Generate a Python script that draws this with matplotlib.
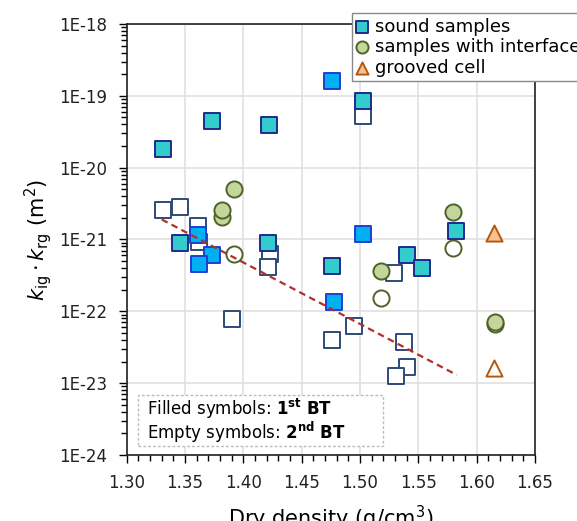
import matplotlib.pyplot as plt
import numpy as np
from matplotlib.ticker import FixedLocator, FuncFormatter, LogLocator, MultipleLocator
from matplotlib.patches import Rectangle

# sound samples, 1st BT (two fill shades in the original)
sound1_teal_x = [1.331, 1.373, 1.422, 1.346, 1.421, 1.503, 1.582, 1.476, 1.540, 1.553]
sound1_teal_y = [1.8e-20, 4.5e-20, 3.9e-20, 8.8e-22, 9.0e-22, 8.6e-20, 1.33e-21, 4.3e-22, 6.05e-22, 4.0e-22]
sound1_blue_x = [1.361, 1.373, 1.362, 1.476, 1.503, 1.478]
sound1_blue_y = [1.17e-21, 6.0e-22, 4.5e-22, 1.6e-19, 1.2e-21, 1.33e-22]
# sound samples, 2nd BT
sound2_x = [1.331, 1.346, 1.361, 1.362, 1.423, 1.421, 1.390, 1.503, 1.529, 1.495, 1.476, 1.538, 1.540, 1.531]
sound2_y = [2.6e-21, 2.8e-21, 1.56e-21, 9.2e-22, 6.3e-22, 4.1e-22, 7.9e-23, 5.3e-20, 3.44e-22, 6.3e-23,
            4.0e-23, 3.7e-23, 1.68e-23, 1.27e-23]
# samples with interface
interf1_x = [1.392, 1.382, 1.382, 1.580, 1.518, 1.616]
interf1_y = [5.1e-21, 2.07e-21, 2.55e-21, 2.4e-21, 3.6e-22, 7.0e-23]
interf2_x = [1.392, 1.580, 1.518, 1.616]
interf2_y = [6.2e-22, 7.7e-22, 1.55e-22, 6.6e-23]
# grooved cell
groove1_x = [1.615]
groove1_y = [1.24e-21]
groove2_x = [1.615]
groove2_y = [1.6e-23]
# trend line
trend_x = [1.330, 1.583]
trend_y = [1.9e-21, 1.3e-23]

x_ticks = [1.30, 1.35, 1.40, 1.45, 1.50, 1.55, 1.60, 1.65]

plt.rcParams['font.family'] = 'DejaVu Sans'
plt.rcParams['mathtext.fontset'] = 'dejavusans'

fig = plt.figure(figsize=(5.77, 5.21), dpi=100)
ax = fig.add_axes([0.2196, 0.1267, 0.7075, 0.8273])

sq = 135
ax.scatter(sound2_x, sound2_y, marker='s', s=sq, facecolor='white', edgecolor='#2E4A78', linewidth=1.4, zorder=3)
ax.scatter(sound1_teal_x, sound1_teal_y, marker='s', s=sq, facecolor='#33CCCC', edgecolor='#1F2A8A', linewidth=1.4,
           zorder=4, label='sound samples')
ax.scatter(sound1_blue_x, sound1_blue_y, marker='s', s=sq, facecolor='#00B0F0', edgecolor='#1F3FD0', linewidth=1.4,
           zorder=4)
ax.scatter(interf2_x, interf2_y, marker='o', s=sq, facecolor='white', edgecolor='#4F6228', linewidth=1.4, zorder=3)
ax.scatter(interf1_x, interf1_y, marker='o', s=sq, facecolor='#C3D69B', edgecolor='#4F6228', linewidth=1.4,
           zorder=4, label='samples with interface')
ax.scatter(groove2_x, groove2_y, marker='^', s=sq, facecolor='white', edgecolor='#B4580F', linewidth=1.4, zorder=3)
ax.scatter(groove1_x, groove1_y, marker='^', s=sq, facecolor='#FAC090', edgecolor='#B4580F', linewidth=1.4,
           zorder=4, label='grooved cell')

ax.plot(trend_x, trend_y, linestyle=(0, (3, 2)), color='#B0302A', linewidth=1.6, zorder=5)

ax.set_yscale('log')
ax.set_ylim(1e-24, 1e-18)
ax.set_xlim(1.30, 1.65)
ax.xaxis.set_major_locator(FixedLocator(x_ticks))
ax.xaxis.set_minor_locator(MultipleLocator(0.01))
ax.xaxis.set_major_formatter(FuncFormatter(lambda v, p: f'{v:.2f}'))
ax.yaxis.set_major_locator(LogLocator(base=10, numticks=10))
ax.yaxis.set_minor_locator(LogLocator(base=10, subs=np.arange(2, 10), numticks=20))
ax.yaxis.set_major_formatter(FuncFormatter(lambda v, p: f'1E{int(round(np.log10(v)))}'))

ax.grid(True, which='major', color='#E0E0E0', linewidth=1.2)
ax.set_axisbelow(True)
for s in ax.spines.values():
    s.set_color('#222222')
    s.set_linewidth(1.2)
ax.tick_params(axis='both', which='major', labelsize=12, length=6, width=1, direction='out', pad=8,
               labelcolor='#222222')
ax.tick_params(axis='both', which='minor', length=4, width=1, direction='out')

ax.set_xlabel('Dry density (g/cm$^3$)', fontsize=15, labelpad=8)
ax.set_ylabel(r'$k_{\mathrm{ig}}\cdot k_{\mathrm{rg}}$ (m$^2$)', fontsize=15, labelpad=4)

# note box
ax.add_patch(Rectangle((0.027, 0.021), 0.6, 0.118, transform=ax.transAxes, fill=True, facecolor='white',
                       edgecolor='#BBBBBB', linestyle=(0, (2, 1.5)), linewidth=1, zorder=6))
ax.text(0.05, 0.106, r'Filled symbols: $\mathbf{1^{st}\ BT}$', transform=ax.transAxes, fontsize=12,
        va='center', zorder=7)
ax.text(0.05, 0.052, r'Empty symbols: $\mathbf{2^{nd}\ BT}$', transform=ax.transAxes, fontsize=12,
        va='center', zorder=7)

fig.legend(loc='upper left', bbox_to_anchor=(352 / 577, 1 - 13 / 521), fontsize=13, frameon=True,
           fancybox=False, edgecolor='#888888', framealpha=1, handlelength=0.6, handletextpad=0.4,
           labelspacing=0.15, borderpad=0.25, borderaxespad=0, markerscale=0.75)

fig.savefig('out.png', dpi=100)
